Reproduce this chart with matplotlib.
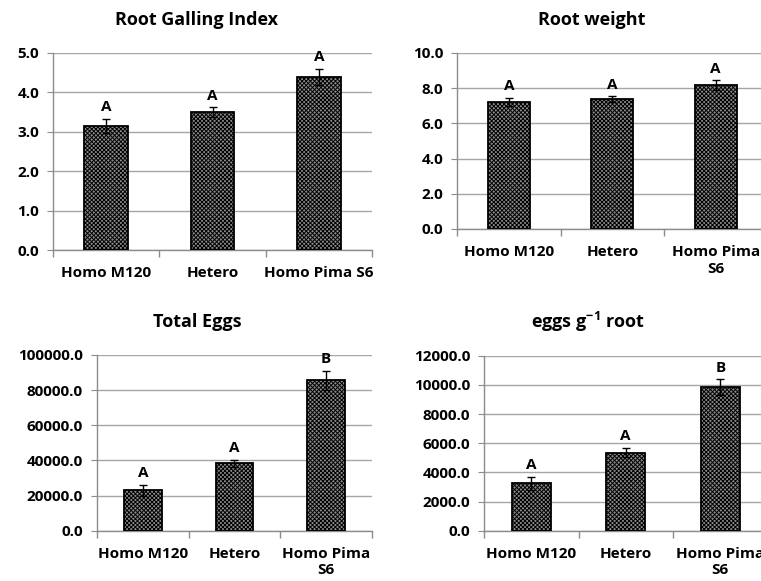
import matplotlib.pyplot as plt
import numpy as np

plt.rcParams['font.family'] = ['Open Sans', 'DejaVu Sans']
plt.rcParams['font.weight'] = 'bold'
plt.rcParams['mathtext.fontset'] = 'custom'
plt.rcParams['mathtext.rm'] = 'Open Sans:bold'
plt.rcParams['mathtext.bf'] = 'Open Sans:bold'
plt.rcParams['hatch.linewidth'] = 0.7
plt.rcParams['hatch.color'] = '#3a3a3a'

genotypes = ['Homo M120', 'Hetero', 'Homo Pima S6']
genotypes_wrapped = ['Homo M120', 'Hetero', 'Homo Pima\nS6']

gall_index = [3.15, 3.50, 4.40]
gall_index_se = [0.17, 0.12, 0.20]
gall_letters = ['A', 'A', 'A']

root_weight = [7.22, 7.37, 8.16]
root_weight_se = [0.25, 0.16, 0.28]
root_weight_letters = ['A', 'A', 'A']

total_eggs = [23000, 38500, 85500]
total_eggs_se = [3200, 2000, 5200]
total_eggs_letters = ['A', 'A', 'B']

eggs_per_g = [3250, 5350, 9850]
eggs_per_g_se = [450, 330, 520]
eggs_per_g_letters = ['A', 'A', 'B']

W, H = 761, 581
fig = plt.figure(figsize=(W / 100, H / 100), dpi=100)


def px_axes(left, top, right, bottom):
    return fig.add_axes([left / W, 1 - bottom / H, (right - left) / W, (bottom - top) / H])


def bar_panel(ax, values, errors, letters, labels, ymax, ystep):
    x = np.arange(len(values))
    ax.bar(x, values, width=0.41, color='#8c8c8c', edgecolor='black',
           linewidth=1.3, hatch='xxxxxxxx', zorder=3)
    ax.errorbar(x, values, yerr=errors, fmt='none', ecolor='black',
                elinewidth=1, capsize=3, capthick=1, zorder=4)
    for xi, v, e, lab in zip(x, values, errors, letters):
        ax.annotate(lab, (xi, v + e), xytext=(0, 3.5), textcoords='offset points',
                    ha='center', va='bottom', fontsize=11, fontweight='bold')
    ax.set_xlim(-0.5, len(values) - 0.5)
    ax.set_ylim(0, ymax)
    ax.set_yticks(np.arange(0, ymax + ystep / 2, ystep))
    ax.set_yticklabels([f'{t:.1f}' for t in ax.get_yticks()])
    ax.yaxis.grid(True, color='#a6a6a6', linewidth=1, zorder=0)
    ax.set_xticks(x)
    ax.set_xticklabels(labels, linespacing=1.25)
    ax.set_xticks(np.arange(-0.5, len(values)), minor=True)
    ax.tick_params(axis='x', which='major', length=0, pad=11.5, labelsize=11)
    ax.tick_params(axis='x', which='minor', length=5, color='#8c8c8c', width=1)
    ax.tick_params(axis='y', length=4, color='#8c8c8c', pad=6, labelsize=11)
    for side in ('top', 'right'):
        ax.spines[side].set_visible(False)
    for side in ('left', 'bottom'):
        ax.spines[side].set_color('#8c8c8c')
        ax.spines[side].set_linewidth(1)


ax1 = px_axes(53, 53, 372, 250)
bar_panel(ax1, gall_index, gall_index_se, gall_letters, genotypes, 5.0, 1.0)
fig.text(197 / W, 1 - 20 / H, 'Root Galling Index', ha='center', va='center',
         fontsize=13, fontweight='bold')

ax2 = px_axes(457, 53, 767.5, 229)
bar_panel(ax2, root_weight, root_weight_se, root_weight_letters, genotypes_wrapped, 10.0, 2.0)
fig.text(592 / W, 1 - 20 / H, 'Root weight', ha='center', va='center',
         fontsize=13, fontweight='bold')

ax3 = px_axes(97, 355, 372, 530.7)
bar_panel(ax3, total_eggs, total_eggs_se, total_eggs_letters, genotypes_wrapped, 100000, 20000)
fig.text(197 / W, 1 - 322 / H, 'Total Eggs', ha='center', va='center',
         fontsize=13, fontweight='bold')

ax4 = px_axes(484, 355.7, 767.5, 530.7)
bar_panel(ax4, eggs_per_g, eggs_per_g_se, eggs_per_g_letters, genotypes_wrapped, 12000, 2000)
fig.text(588 / W, 1 - 322 / H, r'eggs g$^{\mathbf{-1}}$ root', ha='center', va='center',
         fontsize=13, fontweight='bold')

fig.savefig('out.png', dpi=100)
